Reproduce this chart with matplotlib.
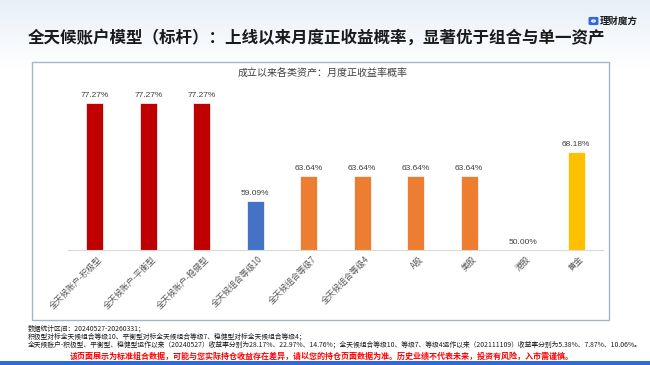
import numpy as np
import matplotlib.pyplot as plt
from matplotlib.patches import Rectangle, FancyBboxPatch, Circle
from matplotlib.transforms import offset_copy

plt.rcParams['font.family'] = ['Noto Sans CJK SC', 'DejaVu Sans']

# 数据
categories = ['全天候账户-积极型', '全天候账户-平衡型', '全天候账户-稳健型',
              '全天候组合等级10', '全天候组合等级7', '全天候组合等级4',
              'A股', '美股', '港股', '黄金']
values = [77.27, 77.27, 77.27, 59.09, 63.64, 63.64, 63.64, 63.64, 50.00, 68.18]
colors = ['#C00000', '#C00000', '#C00000', '#4472C4', '#ED7D31', '#ED7D31',
          '#ED7D31', '#ED7D31', '#ED7D31', '#FFC000']

title = '全天候账户模型（标杆）：上线以来月度正收益概率，显著优于组合与单一资产'
chart_title = '成立以来各类资产：月度正收益率概率'
notes = ['数据统计区间：20240527-20260331；',
         '积极型对标全天候组合等级10、平衡型对标全天候组合等级7、稳健型对标全天候组合等级4；',
         '全天候账户-积极型、平衡型、稳健型运作以来（20240527）收益率分别为28.17%、22.97%、14.76%；'
         '全天候组合等级10、等级7、等级4运作以来（202111109）收益率分别为5.38%、7.87%、10.06%。']
warning = '该页面展示为标准组合数据，可能与您实际持仓收益存在差异，请以您的持仓页面数据为准。历史业绩不代表未来，投资有风险，入市需谨慎。'

W, H = 650, 365
fig = plt.figure(figsize=(6.5, 3.65), dpi=100)
fig.patch.set_facecolor('white')

# 顶部浅蓝渐变背景
bg = fig.add_axes([0, 0, 1, 1], zorder=-10)
bg.axis('off')
grad = np.ones((H, 1))
grad[:70, 0] = np.linspace(0, 1, 70)
c0 = np.array([0.91, 0.94, 0.975])
img = c0[None, None, :] * (1 - grad[:, :, None]) + grad[:, :, None]
bg.imshow(img, aspect='auto', extent=[0, 1, 0, 1])
bg.set_xlim(0, 1)
bg.set_ylim(0, 1)

# 面板边框
fig.patches.append(Rectangle((32 / W, 1 - 320 / H), (609 - 32) / W, (320 - 62) / H,
                             transform=fig.transFigure, facecolor='white',
                             edgecolor='#A9B4C2', lw=1, zorder=-5))
# 底部蓝条
fig.patches.append(Rectangle((0, 0), 1, 4 / H, transform=fig.transFigure,
                             facecolor='#2F6BD8', edgecolor='none'))

# 图表
ax = fig.add_axes([68 / W, 1 - 250 / H, 535 / W, 162 / H])
ax.set_facecolor('none')
x = np.arange(len(categories))
ax.bar(x, [v - 50 for v in values], bottom=50, width=0.32, color=colors,
       edgecolor='white', linewidth=0.5)
ax.set_ylim(50, 80)
ax.set_xlim(-0.5, len(categories) - 0.5)
for s in ['top', 'right', 'left']:
    ax.spines[s].set_visible(False)
ax.spines['bottom'].set_color('#D9D9D9')
ax.set_yticks([])
ax.set_xticks([])

for xi, v in zip(x, values):
    ax.annotate(f'{v:.2f}%', (xi, v), xytext=(0, 3), textcoords='offset points',
                ha='center', va='bottom', fontsize=6, color='#404040',
                family=['Liberation Sans', 'DejaVu Sans'])

for xi, lab in zip(x, categories):
    tr = offset_copy(ax.get_xaxis_transform(), fig=fig, x=6, y=-8, units='dots')
    ax.text(xi, 0, lab, transform=tr, rotation=45, rotation_mode='anchor',
            ha='right', va='center', fontsize=6, color='#595959')

fig.text(323 / W, 1 - 74 / H, chart_title, ha='center', va='center',
         fontsize=7.2, color='#404040')

# 标题
fig.text(28 / W, 1 - 38 / H, title, ha='left', va='center', fontsize=11.9,
         weight='bold', color='#1A1A1A')

# logo
fig.patches.append(FancyBboxPatch((590.5 / W, 1 - 24 / H), 6 / W, 6 / H,
                                  boxstyle='round,pad=0.003', transform=fig.transFigure,
                                  facecolor='#2F6BD8', edgecolor='none'))
fig.patches.append(Circle((593.5 / W, 1 - 21 / H), 1.8 / W, transform=fig.transFigure,
                          facecolor='none', edgecolor='white', lw=0.9))
fig.text(600 / W, 1 - 20.5 / H, '理财魔方', ha='left', va='center', fontsize=6.8,
         weight='bold', color='#1A1A1A')

# 脚注
ys = [329, 337, 345]
for yy, t in zip(ys, notes):
    fig.text(28 / W, 1 - yy / H, t, ha='left', va='center', fontsize=4.9,
             color='#1A1A1A')
fig.text(322 / W, 1 - 356 / H, warning, ha='center', va='center', fontsize=5.8,
         weight='bold', color='#FF0000')

fig.savefig('out.png', dpi=100)
